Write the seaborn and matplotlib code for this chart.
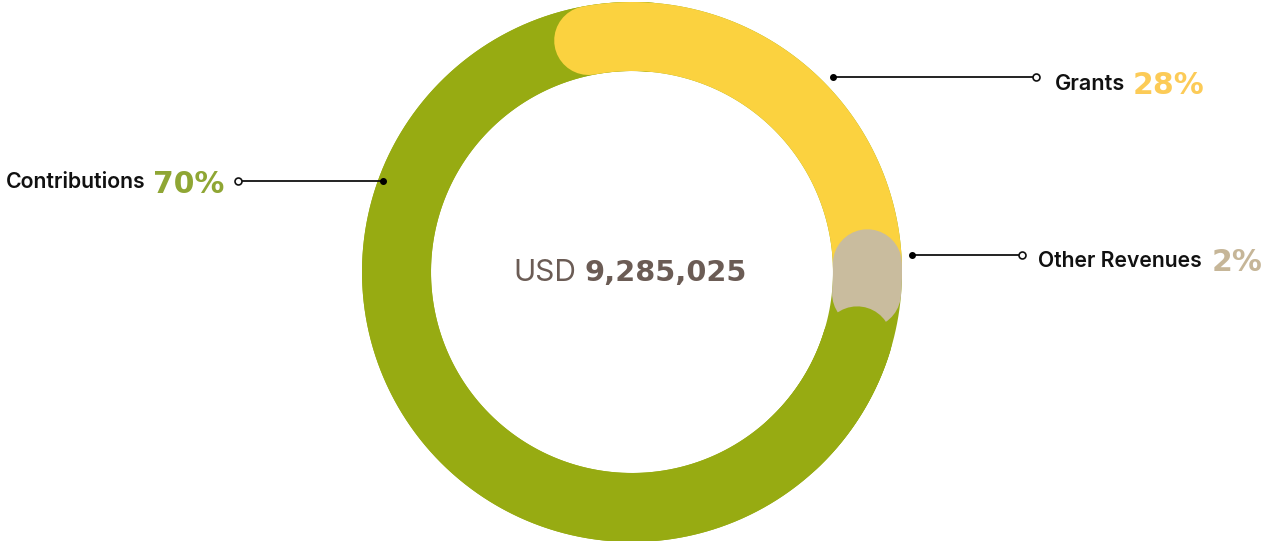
import numpy as np
import matplotlib
matplotlib.use("Agg")
import matplotlib.pyplot as plt
import seaborn as sns
import pandas as pd

# ---- data ----
categories = ["Grants", "Other Revenues", "Contributions"]
shares = [28, 2, 70]
pct_labels = ["28%", "2%", "70%"]
currency = "USD"
total_label = "9,285,025"

# ---- style ----
sns.set_theme(style="white")
plt.rcParams['font.family'] = ['Inter', 'DejaVu Sans']

ring_colors = ["#FBD23F", "#C9BC9E", "#97AB12"]
pct_colors = ["#FCCB57", "#C6B698", "#8FA634"]
start_angles = [-10.6, 88.0, 107.0]  # cap-centre start, degrees clockwise from 12 o'clock
text_color = "#6B5C55"

fig = plt.figure(figsize=(12.63, 5.41), dpi=100)
ax = fig.add_axes([0, 0, 1, 1])

CX, CY, RMID, W = 632, 272, 235.5, 69
LW = W * 72 / 100


def arc(a0, a1, n=300):
    t = np.radians(np.linspace(a0, a1, n))
    return pd.DataFrame({"x": CX + RMID * np.sin(t), "y": CY - RMID * np.cos(t)})


def draw(df, color, cap='round'):
    sns.lineplot(data=df, x="x", y="y", sort=False, estimator=None, color=color,
                 linewidth=LW, solid_capstyle=cap, ax=ax)


spans = [s / sum(shares) * 360 for s in shares]
g_i, o_i, c_i = 0, 1, 2

# base ring
draw(arc(0, 365, 500), ring_colors[c_i], cap='butt')
# contributions full arc (under grants)
draw(arc(start_angles[c_i], start_angles[c_i] + spans[c_i]), ring_colors[c_i])
# grants
draw(arc(start_angles[g_i], start_angles[g_i] + spans[g_i]), ring_colors[g_i])
# other revenues
draw(arc(start_angles[o_i], start_angles[o_i] + spans[o_i]), ring_colors[o_i])
# contributions start cap on top
draw(arc(start_angles[c_i], start_angles[c_i] + 30), ring_colors[c_i])

ax.set_xlim(0, 1263)
ax.set_ylim(541, 0)
ax.axis('off')

# ---- leader lines ----
leaders = [((833, 77), (1036, 77)), ((912, 255), (1022, 255)), ((383, 181), (238, 181))]
for (p_in, p_out) in leaders:
    ax.plot([p_in[0], p_out[0]], [p_in[1], p_out[1]], color="#111111", lw=1.3, zorder=5)
    ax.plot(*p_in, marker='o', ms=4, color="#000000", zorder=6)
    ax.plot(*p_out, marker='o', ms=5, mfc='white', mec="#111111", mew=1.2, zorder=6)

# ---- labels ----
label_pos = [(1055, 90), (1038, 267), (6, 188)]
label_size = [15.6, 15.2, 15.3]
pct_pos = [(1133, 94), (1212, 271), (153, 193)]
for i in range(3):
    ax.text(*label_pos[i], categories[i], fontsize=label_size[i], color="#111111",
            ha='left', va='baseline', fontweight='semibold')
    ax.text(*pct_pos[i], pct_labels[i], fontsize=21.5, color=pct_colors[i],
            ha='left', va='baseline', fontweight='bold', family='DejaVu Sans')

ax.text(513, 281, currency, fontsize=21.5, color=text_color, ha='left', va='baseline')
ax.text(585, 281, total_label, fontsize=20.8, color=text_color, ha='left', va='baseline',
        fontweight='bold', family='DejaVu Sans')

fig.savefig("out.png", dpi=100)
